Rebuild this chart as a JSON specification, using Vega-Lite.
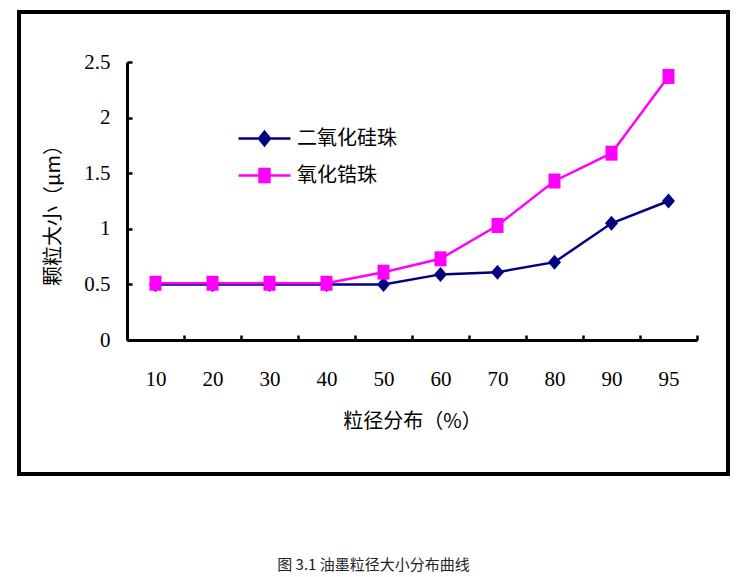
{
  "$schema": "https://vega.github.io/schema/vega-lite/v6.json",
  "width": 709,
  "height": 462,
  "padding": {"left": 19, "top": 12, "right": 8, "bottom": 5},
  "background": "white",
  "title": {
    "text": "图 3.1  油墨粒径大小分布曲线",
    "orient": "bottom",
    "anchor": "middle",
    "offset": 84,
    "fontSize": 15,
    "fontWeight": "normal",
    "font": "Noto Sans CJK SC",
    "color": "#222222"
  },
  "data": {
    "values": [
      {"p": "10", "s": "二氧化硅珠", "v": 0.5},
      {"p": "20", "s": "二氧化硅珠", "v": 0.5},
      {"p": "30", "s": "二氧化硅珠", "v": 0.5},
      {"p": "40", "s": "二氧化硅珠", "v": 0.5},
      {"p": "50", "s": "二氧化硅珠", "v": 0.5},
      {"p": "60", "s": "二氧化硅珠", "v": 0.59},
      {"p": "70", "s": "二氧化硅珠", "v": 0.61},
      {"p": "80", "s": "二氧化硅珠", "v": 0.7},
      {"p": "90", "s": "二氧化硅珠", "v": 1.05},
      {"p": "95", "s": "二氧化硅珠", "v": 1.25},
      {"p": "10", "s": "氧化锆珠", "v": 0.51},
      {"p": "20", "s": "氧化锆珠", "v": 0.51},
      {"p": "30", "s": "氧化锆珠", "v": 0.51},
      {"p": "40", "s": "氧化锆珠", "v": 0.51},
      {"p": "50", "s": "氧化锆珠", "v": 0.61},
      {"p": "60", "s": "氧化锆珠", "v": 0.73},
      {"p": "70", "s": "氧化锆珠", "v": 1.03},
      {"p": "80", "s": "氧化锆珠", "v": 1.43},
      {"p": "90", "s": "氧化锆珠", "v": 1.68},
      {"p": "95", "s": "氧化锆珠", "v": 2.37}
    ]
  },
  "encoding": {
    "x": {
      "field": "p",
      "type": "ordinal",
      "sort": null,
      "scale": {
        "type": "band",
        "domain": ["10", "20", "30", "40", "50", "60", "70", "80", "90", "95"],
        "range": [108, 678],
        "paddingInner": 0,
        "paddingOuter": 0
      },
      "axis": {
        "title": "粒径分布（%）",
        "orient": "bottom",
        "offset": -134,
        "tickBand": "extent",
        "labelAngle": 0,
        "tickSize": -5,
        "labelPadding": 33,
        "titlePadding": 22
      }
    },
    "y": {
      "field": "v",
      "type": "quantitative",
      "scale": {"domain": [0, 2.5], "range": [328, 50], "nice": false},
      "axis": {
        "title": "颗粒大小（μm）",
        "offset": -108,
        "values": [0, 0.5, 1, 1.5, 2, 2.5],
        "format": ".1~f",
        "tickSize": -5,
        "labelPadding": 22,
        "titlePadding": 20,
        "titleY": 198,
        "grid": false
      }
    },
    "color": {
      "field": "s",
      "type": "nominal",
      "scale": {"domain": ["二氧化硅珠", "氧化锆珠"], "range": ["#000080", "#FF00FF"]},
      "legend": {
        "title": null,
        "orient": "none",
        "legendX": 234,
        "legendY": 115,
        "padding": 0,
        "symbolSize": 400,
        "rowPadding": 13,
        "labelOffset": 21,
        "labelFontSize": 20,
        "labelFont": "Noto Sans CJK SC",
        "labelColor": "black",
        "labelBaseline": "middle",
        "labelLimit": 300,
        "encode": {
          "symbols": {
            "update": {
              "shape": {"signal": "datum.value === '二氧化硅珠' ? 'M-2.6,0H2.6M0,-0.68L0.55,0L0,0.68L-0.55,0Z' : 'M-2.6,0H2.6M-0.5,-0.65H0.5V0.65H-0.5Z'"},
              "fill": {"signal": "datum.value === '二氧化硅珠' ? '#000080' : '#FF00FF'"},
              "stroke": {"signal": "datum.value === '二氧化硅珠' ? '#000080' : '#FF00FF'"},
              "strokeWidth": {"value": 2.5},
              "opacity": {"value": 1},
              "fillOpacity": {"value": 1},
              "strokeOpacity": {"value": 1}
            }
          }
        }
      }
    }
  },
  "layer": [
    {
      "mark": {"type": "line", "strokeWidth": 2.5}
    },
    {
      "transform": [{"filter": "datum.s === '二氧化硅珠'"}],
      "mark": {"type": "point", "filled": true, "opacity": 1, "size": 225, "strokeWidth": 0, "shape": "M0,-1L0.87,0L0,1L-0.87,0Z"}
    },
    {
      "transform": [{"filter": "datum.s === '氧化锆珠'"}],
      "mark": {"type": "point", "filled": true, "opacity": 1, "size": 225, "strokeWidth": 0, "shape": "M-0.8,-1H0.8V1H-0.8Z"}
    }
  ],
  "config": {
    "view": {"stroke": "black", "strokeWidth": 4},
    "axis": {
      "domainColor": "black",
      "domainWidth": 3,
      "tickColor": "black",
      "tickWidth": 2.5,
      "labelFont": "Liberation Serif",
      "labelFontSize": 21,
      "labelColor": "black",
      "titleFont": "Noto Sans CJK SC",
      "titleFontSize": 20,
      "titleFontWeight": "normal",
      "titleColor": "black"
    }
  }
}
